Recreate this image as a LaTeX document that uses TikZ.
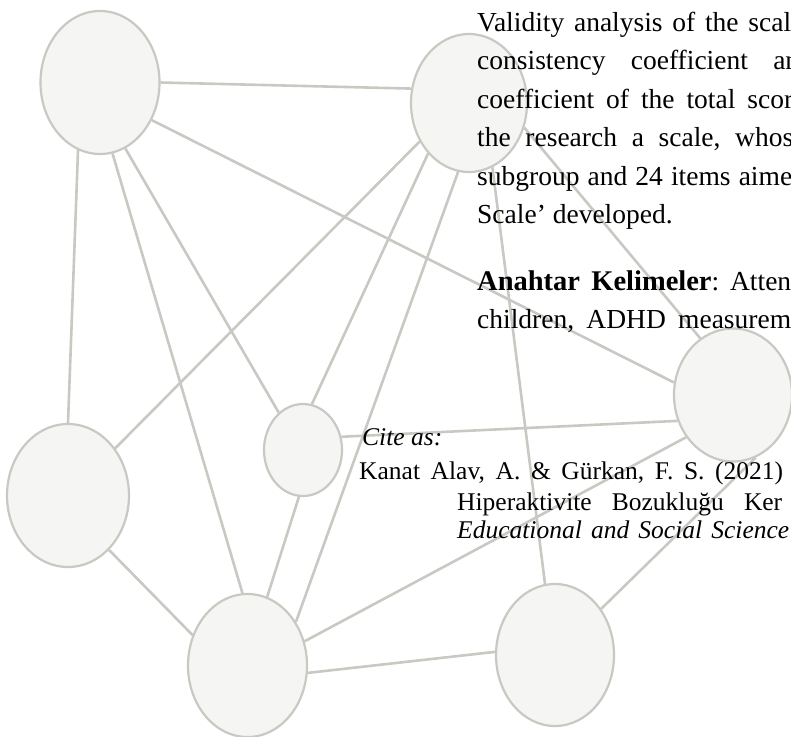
\documentclass[tikz,border=0pt]{standalone}
\usepackage{fontspec}
\setmainfont{Liberation Serif}
\usetikzlibrary{shapes.geometric}
\definecolor{bubblefill}{RGB}{245,245,243}
\definecolor{linkgray}{RGB}{201,201,195}
\tikzset{
	bubble/.style={ellipse, draw=linkgray, fill=bubblefill, line width=2.2pt, inner sep=0pt},
	link/.style={draw=linkgray, line width=2.6pt},
	abstxt/.style={anchor=base west, inner sep=0pt, font=\fontsize{27.5}{33}\selectfont},
	citetxt/.style={anchor=base west, inner sep=0pt, font=\fontsize{25.5}{31}\selectfont}
}
\newcommand{\jline}[2]{\frenchspacing\makebox[#1][s]{#2}}% [width]{justified line}

\begin{document}
\begin{tikzpicture}[x=1pt,y=-1pt]
	\useasboundingbox (0,0) rectangle (791,736);
	\clip (0,0) rectangle (791,736);
	\fill[white] (0,0) rectangle (791,736);

	% bubbles
	\node[bubble, minimum width=119pt, minimum height=143pt] (A) at (100,82.5) {};
	\node[bubble, minimum width=116pt, minimum height=138pt] (B) at (469,103) {};
	\node[bubble, minimum width=118pt, minimum height=133pt] (C) at (733,395) {};
	\node[bubble, minimum width=78pt, minimum height=92pt] (D) at (303,450) {};
	\node[bubble, minimum width=122pt, minimum height=143pt] (E) at (68,495.5) {};
	\node[bubble, minimum width=119pt, minimum height=143pt] (F) at (247.5,665.5) {};
	\node[bubble, minimum width=118pt, minimum height=142pt] (G) at (555,655) {};

	% links
	\draw[link] (A.0) -- (B.166);
	\draw[link] (A.252) -- (E.90);
	\draw[link] (A.280) -- (F.94);
	\draw[link] (A.291) -- (D.123);
	\draw[link] (A.324) -- (C.168);
	\draw[link] (B.218) -- (E.45);
	\draw[link] (B.231) -- (D.79);
	\draw[link] (B.261) -- (F.42);
	\draw[link] (B.290) -- (G.98);
	\draw[link] (B.336) -- (C.120);
	\draw[link] (D.265) -- (F.74);
	\draw[link] (D.19) -- (C.205);
	\draw[link] (E.307) -- (F.151);
	\draw[link] (F.23) -- (C.222);
	\draw[link] (F.353) -- (G.177);
	\draw[link] (G.45) -- (C.290);

	% abstract lines
	\node[abstxt] (abs1) at (477,31) {\jline{314pt}{Validity analysis of the scal}};
	\node[abstxt] (abs2) at (477,69.5) {\jline{322pt}{consistency coefficient an}};
	\node[abstxt] (abs3) at (477,108) {\jline{316pt}{coefficient of the total scor}};
	\node[abstxt] (abs4) at (477,146.5) {\jline{316pt}{the research a scale, whos}};
	\node[abstxt] (abs5) at (477,185) {\jline{315pt}{subgroup and 24 items aime}};
	\node[abstxt] (abs6) at (477,223.5) {Scale’ developed.};
	\node[abstxt] (abs7) at (477,290) {\jline{314pt}{{\fontsize{28.5}{33}\selectfont\bfseries Anahtar Kelimeler}: Atten}};
	\node[abstxt] (abs8) at (477,328) {\jline{314pt}{children, ADHD measurem}};

	% citation
	\node[citetxt] (cite0) at (362,445) {\textit{Cite as:}};
	\node[citetxt] (cite1) at (359,479) {\jline{424pt}{Kanat Alav, A. \& Gürkan, F. S. (2021)}};
	\node[citetxt] (cite2) at (457,510) {\jline{325pt}{Hiperaktivite Bozukluğu Ker}};
	\node[citetxt] (cite3) at (457,538) {\jline{332pt}{\itshape Educational and Social Science}};
\end{tikzpicture}
\end{document}
